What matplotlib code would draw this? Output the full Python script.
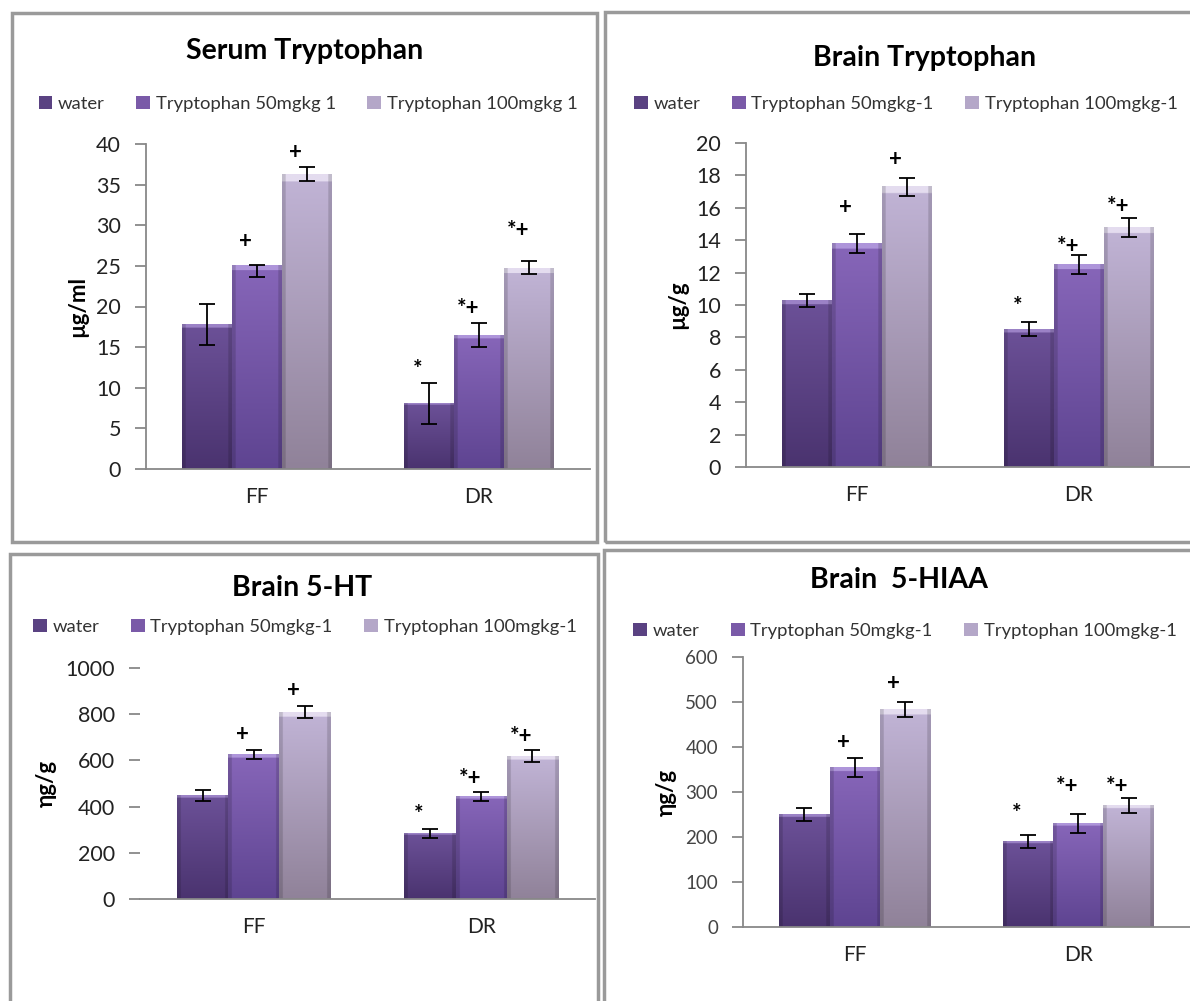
import numpy as np
import matplotlib
matplotlib.use("Agg")
import matplotlib.pyplot as plt
from matplotlib.patches import Rectangle, Patch
from matplotlib.colors import to_rgb

plt.rcParams['font.family'] = ['Lato', 'DejaVu Sans']

# ---- data ----
groups = ["FF", "DR"]
series = ["water", "Tryptophan 50mgkg-1", "Tryptophan 100mgkg-1"]
series_serum = ["water", "Tryptophan 50mgkg 1", "Tryptophan 100mgkg 1"]

serum_trp = [[17.8, 8.1], [25.1, 16.4], [36.3, 24.7]]
serum_err_lo = [[2.5, 2.5], [1.5, 1.4], [0.8, 0.7]]
serum_err_hi = [[2.5, 2.5], [0.0, 1.6], [0.9, 0.9]]
serum_sig = [["", "*"], ["+", "*+"], ["+", "*+"]]
serum_sig_y = [[0, 12.2], [28.0, 19.7], [38.9, 29.4]]

brain_trp = [[10.3, 8.5], [13.8, 12.5], [17.3, 14.8]]
brain_trp_err = [[0.4, 0.43], [0.6, 0.6], [0.55, 0.6]]
brain_trp_sig = [["", "*"], ["+", "*+"], ["+", "*+"]]
brain_trp_sig_y = [[0, 9.9], [16.0, 13.6], [19.0, 16.1]]

brain_5ht = [[449, 285], [627, 445], [809, 619]]
brain_5ht_err = [[25, 20], [20, 20], [27, 25]]
brain_5ht_sig = [["", "*"], ["+", "*+"], ["+", "*+"]]
brain_5ht_sig_y = [[0, 367], [710, 522], [903, 703]]

brain_5hiaa = [[250, 190], [355, 230], [483, 270]]
brain_5hiaa_err = [[14, 14], [21, 21], [17, 16]]
brain_5hiaa_sig = [["", "*"], ["+", "*+"], ["+", "*+"]]
brain_5hiaa_sig_y = [[0, 253], [410, 313], [541, 313]]

# gradient colours per series: (bottom, top, highlight)
shades = [("#4a336f", "#6c5198", "#9b82c6"),
          ("#5e4491", "#8766b9", "#ae95da"),
          ("#908299", "#c1b4d6", "#e4dcef")]
legend_colors = ["#5a4282", "#7a5aa8", "#b4a7c8"]

W, H = 1190, 1001
fig = plt.figure(figsize=(W / 100, H / 100), dpi=100)


def fx(px):
    return px / W


def fy(py):
    return 1 - py / H


def gradient_img(bottom, top, hi):
    n = 200
    cb, ct, ch = np.array(to_rgb(bottom)), np.array(to_rgb(top)), np.array(to_rgb(hi))
    t = np.linspace(0, 1, n)[:, None]
    img = cb + (ct - cb) * t
    img[-5:] = ch
    # darker side edges
    side = np.ones((1, 40, 1))
    side[:, :3] = 0.85
    side[:, -3:] = 0.85
    return img[:, None, :] * side


def panel(box, axpos, title, title_x, title_y, legend_x, legend_y, vals, err_lo, err_hi,
          sig, sig_y, ylim, step, ylabel, labels, spine=True, tick_fs=15.5,
          tick_color="#222222"):
    # panel frame
    x0, y0, x1, y1 = box
    fig.patches.append(Rectangle((fx(x0), fy(y1)), fx(x1 - x0), fy(y0) - fy(y1),
                                 transform=fig.transFigure, fill=False,
                                 edgecolor="#9a9a9a", linewidth=2.5))
    ax = fig.add_axes(axpos)
    xc = np.arange(len(groups))
    w = 0.225
    for i in range(3):
        bars = ax.bar(xc + (i - 1) * w, vals[i], w, color=legend_colors[i],
                      edgecolor="none", zorder=2)
        for b in bars:
            ax.imshow(gradient_img(*shades[i]), origin="lower", aspect="auto",
                      extent=(b.get_x(), b.get_x() + b.get_width(), 0, b.get_height()),
                      clip_path=b, zorder=2.5, interpolation="bilinear")
        ax.errorbar(xc + (i - 1) * w, vals[i], yerr=[err_lo[i], err_hi[i]], fmt="none",
                    ecolor="black", elinewidth=1.3, capsize=6, capthick=1.3, zorder=3)
        for j in range(len(groups)):
            if sig[i][j]:
                ax.text(xc[j] + (i - 1) * w - 0.05, sig_y[i][j], sig[i][j], ha="center",
                        va="center", fontsize=16, fontweight="bold", zorder=4)
    ax.set_xlim(-0.5, 1.5)
    ax.set_ylim(0, ylim)
    ax.set_yticks(np.arange(0, ylim + step / 2, step))
    ax.set_xticks(xc)
    ax.set_xticklabels(groups, fontsize=15, color="#222222")
    ax.tick_params(axis="x", length=0, pad=13)
    ax.tick_params(axis="y", labelsize=tick_fs, colors="#888888", labelcolor=tick_color,
                   length=8, width=1.3, pad=10)
    for s in ["top", "right"]:
        ax.spines[s].set_visible(False)
    ax.spines["bottom"].set_color("#888888")
    ax.spines["bottom"].set_linewidth(1.3)
    ax.spines["left"].set_color("#888888")
    ax.spines["left"].set_linewidth(1.3)
    ax.spines["left"].set_visible(spine)
    ax.set_ylabel(ylabel, fontsize=16, fontweight="bold", labelpad=6)
    ax.patch.set_alpha(0)
    # title and legend
    fig.text(fx(title_x), fy(title_y), title, ha="center", va="center",
             fontsize=20.5, fontweight="bold")
    handles = [Patch(facecolor=legend_colors[k], edgecolor="none") for k in range(3)]
    fig.legend(handles, labels, loc="center", ncol=3, frameon=False,
               bbox_to_anchor=(fx(legend_x), fy(legend_y)), bbox_transform=fig.transFigure,
               fontsize=13.3, handlelength=0.75, handleheight=0.75, handletextpad=0.3,
               columnspacing=1.7, labelcolor="#333333")
    return ax


panel((12, 13, 597, 542), [fx(146), fy(469), fx(444), 325 / H],
      "Serum Tryptophan", 305, 51, 308, 104, serum_trp, serum_err_lo, serum_err_hi,
      serum_sig, serum_sig_y, 40, 5, "µg/ml", series_serum)

panel((605, 12, 1200, 542), [fx(746), fy(467), fx(444), 324 / H],
      "Brain Tryptophan", 925, 58, 906, 104, brain_trp, brain_trp_err, brain_trp_err,
      brain_trp_sig, brain_trp_sig_y, 20, 2, "µg/g", series)

panel((10, 554, 598, 1010), [fx(140), fy(899), fx(455), 231 / H],
      "Brain 5-HT", 302, 588, 305, 627, brain_5ht, brain_5ht_err, brain_5ht_err,
      brain_5ht_sig, brain_5ht_sig_y, 1000, 200, "ηg/g", series, spine=False)

panel((604, 550, 1200, 1010), [fx(743), fy(927), fx(447), 270 / H],
      "Brain  5-HIAA", 899, 580, 905, 631, brain_5hiaa, brain_5hiaa_err, brain_5hiaa_err,
      brain_5hiaa_sig, brain_5hiaa_sig_y, 600, 100, "ηg/g", series,
      tick_fs=13.5, tick_color="#444444")

fig.savefig("out.png", dpi=100, facecolor="white")
